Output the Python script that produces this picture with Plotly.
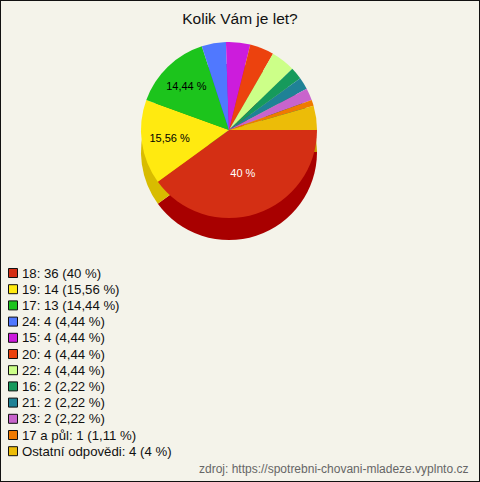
import plotly.graph_objects as go

categories = ["18", "19", "17", "24", "15", "20", "22", "16", "21", "23", "17 a půl", "Ostatní odpovědi"]
counts = [36, 14, 13, 4, 4, 4, 4, 2, 2, 2, 1, 4]
percent_labels = ["40 %", "15,56 %", "14,44 %", "4,44 %", "4,44 %", "4,44 %", "4,44 %",
                  "2,22 %", "2,22 %", "2,22 %", "1,11 %", "4 %"]
slice_text = ["40 %", "15,56 %", "14,44 %", "", "", "", "", "", "", "", "", ""]
colors = ["#d42f14", "#ffea10", "#1cc41c", "#5078ff", "#cc1cdc", "#ec420e", "#ccff88",
          "#169a5c", "#1f8296", "#c864cc", "#ef7a00", "#ecbc08"]
side_colors = ["#a80000", "#d8bc00", "#10a010", "#3050d0", "#a010b0", "#b82800", "#a0d060",
               "#0e7040", "#106070", "#9a4aa0", "#c05a00", "#c89800"]
text_colors = ["white"] + ["black"] * 11

legend_labels = [f"{c}: {n} ({p})" for c, n, p in zip(categories, counts, percent_labels)]

W, H = 480, 482
cx, cy, r = 229, 130, 88
depth = 22
FONT = "Liberation Sans, Arial, sans-serif"

def dom(cx, cy, r):
    return dict(x=[(cx - r) / W, (cx + r) / W], y=[1 - (cy + r) / H, 1 - (cy - r) / H])

fig = go.Figure()
fig.add_trace(go.Pie(
    labels=legend_labels, values=counts, sort=False, direction="clockwise", rotation=90,
    marker=dict(colors=side_colors, line=dict(width=0)),
    textinfo="none", hoverinfo="skip", showlegend=False,
    domain=dom(cx, cy + depth, r),
))
fig.add_trace(go.Pie(
    labels=legend_labels, values=counts, sort=False, direction="clockwise", rotation=90,
    marker=dict(colors=colors, line=dict(width=0)),
    text=slice_text, texttemplate="%{text}", textposition="inside",
    insidetextorientation="horizontal",
    textfont=dict(family=FONT, size=11, color=text_colors),
    showlegend=False,
    domain=dom(cx, cy, r),
))

# legend drawn as text + colour boxes
annotations = []
shapes = []
top, step = 273, 16.2
for i, (lab, col) in enumerate(zip(legend_labels, colors)):
    yc = top + i * step
    annotations.append(dict(text=lab, x=20 / W, y=1 - yc / H, xref="paper", yref="paper",
                            xanchor="left", yanchor="middle", showarrow=False,
                            font=dict(family=FONT, size=13.2, color="#111")))
    shapes.append(dict(type="rect", xref="paper", yref="paper",
                       x0=8.5 / W, x1=17.5 / W, y0=1 - (yc + 4.5) / H, y1=1 - (yc - 4.5) / H,
                       fillcolor=col, line=dict(color="#111", width=1)))

annotations.append(dict(text="zdroj: https://spotrebni-chovani-mladeze.vyplnto.cz",
                        x=470 / W, y=1 - 469 / H, xref="paper", yref="paper",
                        xanchor="right", yanchor="middle", showarrow=False,
                        font=dict(family=FONT, size=12, color="#666")))
shapes.append(dict(type="rect", xref="paper", yref="paper", x0=0, x1=1, y0=0, y1=1,
                   line=dict(color="#111", width=2)))

fig.update_layout(
    width=W, height=H,
    margin=dict(l=0, r=0, t=0, b=0),
    paper_bgcolor="#f4f3ea",
    plot_bgcolor="#f4f3ea",
    font=dict(family=FONT, color="#111"),
    title=dict(text="Kolik Vám je let?", x=0.5, xanchor="center", y=1 - 19 / H, yanchor="middle",
               font=dict(size=15.5, color="#111")),
    showlegend=False,
    annotations=annotations,
    shapes=shapes,
)

fig.write_html("out.html", config={"displayModeBar": False},
               post_script="document.body.style.margin='0px';")
